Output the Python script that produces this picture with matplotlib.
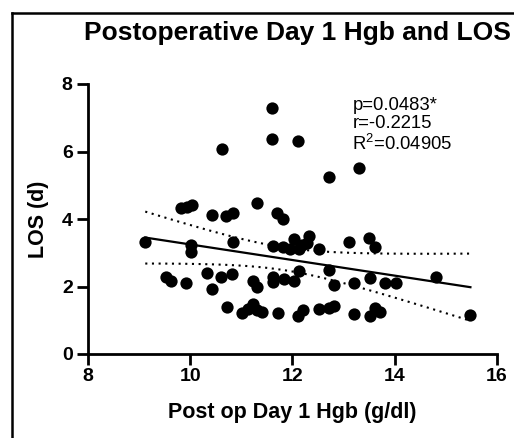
import numpy as np
import matplotlib
matplotlib.use("Agg")
import matplotlib.pyplot as plt
from matplotlib.lines import Line2D

# ---- data ----
hgb = [11.60, 11.60, 12.10, 10.62, 13.31, 12.71,
       9.82, 9.93, 10.03, 10.42, 10.70, 10.83, 11.31, 11.70, 11.81,
       9.12, 10.01, 10.01, 10.83, 11.61, 11.82, 11.95, 12.02, 12.13, 12.19,
       12.32, 12.29, 12.52, 13.10, 13.49, 13.61,
       9.52, 9.62, 9.91, 10.32, 10.42, 10.61, 10.81, 11.22, 11.30, 11.61,
       11.62, 11.83, 12.02, 12.12, 12.71, 12.81, 13.21, 13.51, 13.80, 14.02, 14.81,
       10.71, 11.02, 11.13, 11.22, 11.30, 11.40, 11.71, 12.10, 12.21, 12.52,
       12.72, 12.82, 13.21, 13.51, 13.62, 13.71, 15.48]
los = [7.30, 6.37, 6.30, 6.08, 5.50, 5.25,
       4.32, 4.37, 4.41, 4.11, 4.09, 4.17, 4.48, 4.17, 4.00,
       3.33, 3.23, 3.03, 3.33, 3.20, 3.16, 3.10, 3.40, 3.10, 3.23,
       3.50, 3.28, 3.10, 3.33, 3.43, 3.18,
       2.27, 2.17, 2.11, 2.41, 1.94, 2.29, 2.37, 2.17, 2.00, 2.27,
       2.14, 2.21, 2.17, 2.45, 2.49, 2.04, 2.09, 2.24, 2.11, 2.11, 2.27,
       1.40, 1.22, 1.32, 1.48, 1.30, 1.23, 1.22, 1.13, 1.29, 1.32,
       1.37, 1.41, 1.20, 1.14, 1.35, 1.23, 1.16]

title = "Postoperative Day 1 Hgb and LOS"
xlabel = "Post op Day 1 Hgb (g/dl)"
ylabel = "LOS (d)"
stats_text = "p=0.0483*\nr=-0.2215\nR$^2$=0.04905"
xticks = [8, 10, 12, 14, 16]
yticks = [0, 2, 4, 6, 8]

plt.rcParams['font.family'] = ['Liberation Sans', 'DejaVu Sans']
plt.rcParams['mathtext.default'] = 'regular'

fig = plt.figure(figsize=(5.14, 4.38), dpi=100)
ax = fig.add_axes([88/514, 1-354/438, (497-88)/514, (354-84)/438])

x = np.array(hgb)
y = np.array(los)
ax.scatter(x, y, s=78, color='black', zorder=3, linewidths=0, clip_on=False)

# linear regression with 95% CI
n = len(x)
b, a = np.polyfit(x, y, 1)
xf = np.linspace(x.min(), x.max(), 100)
yf = a + b * xf
resid = y - (a + b * x)
s = np.sqrt(np.sum(resid**2) / (n - 2))
sxx = np.sum((x - x.mean())**2)
tval = 1.995
se = s * np.sqrt(1/n + (xf - x.mean())**2 / sxx)
ax.plot(xf, yf, color='black', lw=1.6, zorder=2)
ax.plot(xf, yf + tval*se, color='black', lw=1.5, ls=(0, (1, 2.2)), zorder=2)
ax.plot(xf, yf - tval*se, color='black', lw=1.5, ls=(0, (1, 2.2)), zorder=2)

ax.set_xlim(8, 16)
ax.set_ylim(0, 8)
ax.set_xticks(xticks)
ax.set_yticks(yticks)
for sp in ['top', 'right']:
    ax.spines[sp].set_visible(False)
for sp in ['left', 'bottom']:
    ax.spines[sp].set_linewidth(2)
ax.tick_params(width=2, length=8, labelsize=14)
ax.tick_params(axis='x', pad=2)
ax.tick_params(axis='y', pad=3)
for lab in ax.get_xticklabels() + ax.get_yticklabels():
    lab.set_fontweight('bold')

ax.set_xlabel(xlabel, fontsize=15.5, fontweight='bold', labelpad=12)
ax.set_ylabel(ylabel, fontsize=15.5, fontweight='bold', labelpad=9)
fig.text(297.5/514, 1-33/438, title, fontsize=19, fontweight='bold',
         ha='center', va='center')

ax.text(13.17, 7.62, stats_text, fontsize=13.3, va='top', ha='left',
        linespacing=1.12)

# outer frame (left and top edges visible)
fig.add_artist(Line2D([12/514, 12/514], [0, 1-13/438], color='black',
                      lw=1.8, transform=fig.transFigure))
fig.add_artist(Line2D([12/514, 1], [1-13/438, 1-13/438], color='black',
                      lw=1.8, transform=fig.transFigure))

fig.savefig("out.png", dpi=100)
